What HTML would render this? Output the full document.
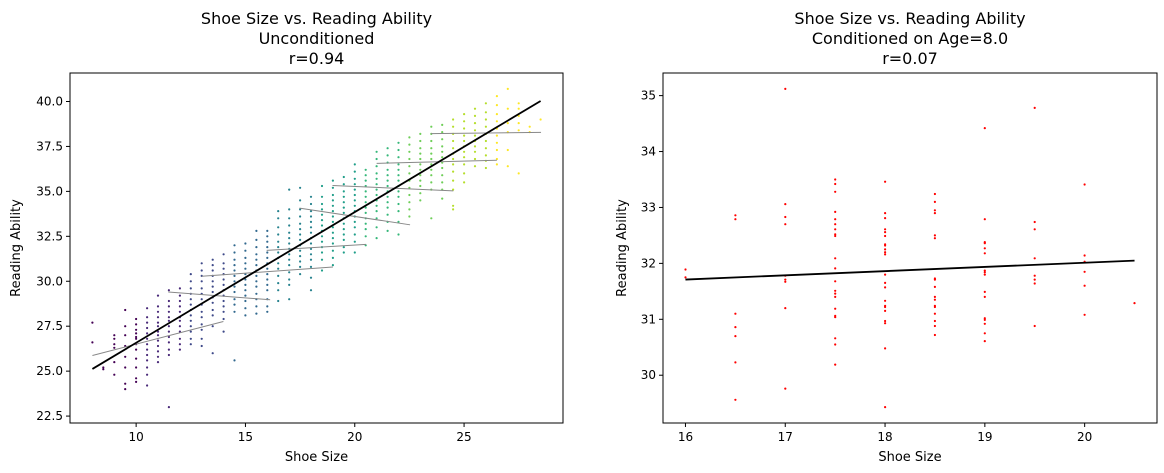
<!DOCTYPE html>
<html><head><meta charset="utf-8">
<style>
html,body{margin:0;padding:0;background:#fff;}
svg{display:block;font-family:"DejaVu Sans","Liberation Sans",sans-serif;}
</style></head>
<body>
<svg id="chart" width="1164" height="473" viewBox="0 0 1164 473"></svg>
<script>
// ---- Left chart data (shoe size columns and reading ability values) ----
const leftSizes = [8,8.5,9,9.5,10,10.5,11,11.5,12,12.5,13,13.5,14,14.5,15,15.5,16,16.5,17,17.5,18,18.5,19,19.5,20,20.5,21,21.5,22,22.5,23,23.5,24,24.5,25,25.5,26,26.5,27,27.5,28,28.5];
const leftReading = [
[27.7,26.6],
[25.1,25.2],
[27.0,26.8,26.5,26.3,25.5,24.8],
[28.4,27.5,27.0,26.4,25.8,25.2,24.3,24.0],
[27.9,27.6,27.3,27.1,26.9,26.8,26.5,26.2,25.7,25.2,24.6,24.4],
[28.5,28.0,27.7,27.4,27.1,26.8,26.5,26.2,25.9,25.6,25.2,24.8,24.2],
[29.2,28.6,28.3,28.0,27.7,27.5,27.2,27.0,26.7,26.4,26.1,25.8,25.5],
[29.5,28.9,28.6,28.3,28.0,27.8,27.5,27.2,26.9,26.6,26.2,25.9,23.0],
[29.6,29.2,28.9,28.6,28.3,28.0,27.8,27.5,27.2,26.8,26.5,26.2],
[30.4,30.0,29.6,29.3,29.0,28.7,28.4,28.1,27.8,27.5,27.2,26.8,26.5],
[31.0,30.6,30.3,30.0,29.6,29.3,29.0,28.7,28.3,28.0,27.6,27.3,26.8,26.4],
[31.2,30.9,30.6,30.3,30.0,29.7,29.4,29.1,28.8,28.4,28.1,27.5,26.0],
[31.5,31.0,30.7,30.4,30.1,29.8,29.5,29.2,28.9,28.6,28.3,27.9,27.2],
[32.0,31.6,31.2,30.9,30.6,30.3,30.0,29.7,29.4,29.0,28.7,28.3,25.6],
[32.1,31.7,31.3,31.0,30.7,30.4,30.1,29.8,29.5,29.2,28.9,28.5,28.1],
[32.8,32.3,31.9,31.5,31.2,30.9,30.6,30.3,30.0,29.7,29.3,29.0,28.6,28.2],
[32.8,32.5,32.2,31.9,31.6,31.3,31.0,30.7,30.4,30.1,29.8,29.5,29.0,28.6,28.3],
[33.9,33.5,33.0,32.6,32.2,31.9,31.6,31.3,31.0,30.7,30.3,29.9,29.5,28.9],
[35.1,34.0,33.5,33.1,32.7,32.4,32.1,31.8,31.5,31.2,30.9,30.5,30.1,29.8,29.0],
[35.2,34.5,34.0,33.6,33.2,32.9,32.6,32.3,32.0,31.7,31.4,31.1,30.8,30.4],
[34.7,34.3,33.9,33.6,33.3,33.0,32.7,32.4,32.1,31.8,31.5,31.2,30.8,30.2,29.5],
[35.3,34.7,34.3,34.0,33.7,33.4,33.1,32.8,32.5,32.2,31.9,31.6,31.2,30.6],
[35.6,35.2,34.8,34.5,34.2,33.9,33.6,33.3,33.0,32.7,32.4,32.1,31.7,31.3,30.9],
[35.8,35.4,35.0,34.7,34.4,34.1,33.8,33.5,33.2,32.9,32.6,32.3,31.9,31.6],
[36.5,36.1,35.7,35.4,35.1,34.8,34.5,34.2,33.9,33.6,33.3,33.0,32.6,32.2,31.6],
[36.2,35.9,35.6,35.3,35.0,34.7,34.4,34.1,33.8,33.5,33.2,32.9,32.5,32.0],
[37.2,36.8,36.4,36.0,35.7,35.4,35.1,34.8,34.5,34.2,33.9,33.5,33.0,32.4],
[37.4,37.0,36.6,36.2,35.9,35.6,35.3,35.0,34.7,34.4,34.1,33.7,33.3,32.8],
[37.7,37.3,36.9,36.5,36.2,35.9,35.6,35.3,35.0,34.7,34.3,33.9,33.3,32.6],
[38.0,37.6,37.2,36.8,36.4,36.0,35.6,35.2,34.8,34.4,34.0,33.6],
[38.2,37.8,37.4,37.1,36.8,36.5,36.2,35.9,35.6,35.3,34.9,34.5],
[38.6,38.2,37.8,37.4,37.1,36.8,36.5,36.2,35.9,35.5,35.1,33.5],
[38.7,38.3,37.9,37.5,37.2,36.9,36.6,36.3,35.9,35.5,35.1,34.6],
[39.0,38.6,38.2,37.8,37.4,37.1,36.8,36.5,36.1,35.6,35.1,34.2,34.0],
[39.3,38.9,38.5,38.1,37.8,37.5,37.2,36.9,36.5,36.0,35.5],
[39.6,39.2,38.8,38.4,38.1,37.8,37.5,37.2,36.8,36.4],
[39.9,39.4,39.0,38.6,38.2,37.8,37.4,37.0,36.7,36.3],
[40.3,39.8,39.3,38.9,38.5,38.1,37.7,37.3,36.8,36.5],
[40.7,39.6,38.8,38.3,37.3,36.4],
[39.9,39.6,39.2,38.8,38.4,36.0],
[38.6,38.3],
[39.0]
];
// per-age-group fit lines (data units)
const groupX0 = [8.0,11.47,13.0,15.97,17.47,18.98,21.0,23.49];
const groupX1 = [13.99,16.13,19.0,20.52,22.53,24.51,26.5,28.52];
const groupY0 = [25.87,29.4,30.28,31.72,34.07,35.33,36.56,38.21];
const groupY1 = [27.76,28.97,30.79,32.05,33.14,35.03,36.73,38.28];
const leftXTicks = [10,15,20,25];
const leftYTicks = [22.5,25.0,27.5,30.0,32.5,35.0,37.5,40.0];

// ---- Right chart data (age = 8) ----
const rightSizes = [16,16.5,17,17.5,18,18.5,19,19.5,20,20.5];
const rightReading = [
[31.89,31.75],
[32.86,32.79,31.10,30.86,30.70,30.23,29.56],
[35.12,33.06,32.83,32.70,31.78,31.71,31.67,31.20,29.76],
[33.50,33.42,33.28,32.92,32.79,32.70,32.61,32.52,32.49,32.09,31.91,31.68,31.51,31.46,31.40,31.19,31.06,31.04,30.66,30.55,30.19],
[33.46,32.90,32.81,32.61,32.56,32.49,32.34,32.32,32.25,32.20,32.16,31.80,31.65,31.57,31.33,31.24,31.22,31.15,30.97,30.93,30.48,29.43],
[33.24,33.10,32.95,32.90,32.50,32.45,31.73,31.71,31.58,31.40,31.35,31.24,31.22,31.10,30.97,30.88,30.72],
[34.42,32.79,32.38,32.36,32.27,32.18,31.87,31.84,31.80,31.49,31.40,31.02,30.99,30.92,30.75,30.61],
[34.78,32.74,32.61,32.09,31.78,31.71,31.64,30.88],
[33.41,32.14,32.03,31.85,31.60,31.08],
[31.29]
];
const rightXTicks = [16,17,18,19,20];
const rightYTicks = [30,31,32,33,34,35];

const NS = "http://www.w3.org/2000/svg";
const svg = document.getElementById('chart');
function mk(tag, attrs, parent){const e=document.createElementNS(NS,tag);for(const k in attrs)e.setAttribute(k,attrs[k]);(parent||svg).appendChild(e);return e;}
const viridis=["#440154","#482878","#3e4989","#31688e","#26828e","#1f9e89","#35b779","#6ece58","#b5de2b","#fde725"];
function vcol(t){t=Math.max(0,Math.min(0.999,t));return viridis[Math.floor(t*viridis.length)];}

function flatten(sizes, vals){const xs=[],ys=[];sizes.forEach((s,i)=>vals[i].forEach(v=>{xs.push(s);ys.push(v);}));return [xs,ys];}
function fit(xs,ys){const n=xs.length;let mx=0,my=0;for(let i=0;i<n;i++){mx+=xs[i];my+=ys[i];}mx/=n;my/=n;let sxy=0,sxx=0;for(let i=0;i<n;i++){sxy+=(xs[i]-mx)*(ys[i]-my);sxx+=(xs[i]-mx)**2;}const b=sxy/sxx;return [my-b*mx,b];}

function panel(o){
  const g=mk('g',{});
  
  
  const [xs,ys]=flatten(o.sizes,o.vals);
  const xmin=Math.min(...xs),xmax=Math.max(...xs),ymin=Math.min(...ys),ymax=Math.max(...ys);
  const xm=(xmax-xmin)*0.05, ym=(ymax-ymin)*0.05;
  const X=v=>o.L+(v-(xmin-xm))/((xmax+xm)-(xmin-xm))*(o.R-o.L);
  const Y=v=>o.B-(v-(ymin-ym))/((ymax+ym)-(ymin-ym))*(o.B-o.T);
  // points
  const pg=mk('g',{},g);
  
  
  for(let i=0;i<xs.length;i++){
    const c=mk('circle',{cx:X(xs[i]).toFixed(1),cy:Y(ys[i]).toFixed(1),r:1.1,fill:o.color?o.color:vcol((xs[i]-xmin)/(xmax-xmin))},pg);
    
    
  }
  // group lines
  if(o.groups){
    for(let i=0;i<groupX0.length;i++){
      const l=mk('line',{x1:X(groupX0[i]),y1:Y(groupY0[i]),x2:X(groupX1[i]),y2:Y(groupY1[i]),stroke:'#888',"stroke-width":1},g);
      
      
    }
  }
  // regression line
  const [a,b]=fit(xs,ys);
  const rl=mk('line',{x1:X(xmin),y1:Y(a+b*xmin),x2:X(xmax),y2:Y(a+b*xmax),stroke:'#000',"stroke-width":1.8},g);
  
  
  // frame
  const fr=mk('rect',{x:o.L,y:o.T,width:o.R-o.L,height:o.B-o.T,fill:'none',stroke:'#000',"stroke-width":1},g);
  
  
  o.xticks.forEach(t=>{
    const x=X(t);
    mk('line',{x1:x,y1:o.B,x2:x,y2:o.B+4,stroke:'#000'},g);
    const tx=mk('text',{x:x,y:o.B+18,"text-anchor":"middle","font-size":12},g);
    tx.textContent=String(t);
    
    
  });
  o.yticks.forEach(t=>{
    const y=Y(t);
    mk('line',{x1:o.L-4,y1:y,x2:o.L,y2:y,stroke:'#000'},g);
    const tx=mk('text',{x:o.L-7,y:y+4,"text-anchor":"end","font-size":12},g);
    tx.textContent=o.yfmt(t);
    
    
  });
  const cx=(o.L+o.R)/2;
  const xl=mk('text',{x:cx,y:461,"text-anchor":"middle","font-size":13},g);
  xl.textContent='Shoe Size';
  
  
  const yx=o.ylx, yy=(o.T+o.B)/2;
  const yl=mk('text',{x:yx,y:yy,"text-anchor":"middle","font-size":13,transform:`rotate(-90 ${yx} ${yy})`},g);
  yl.textContent='Reading Ability';
  
  
  o.title.forEach((s,i)=>{
    const t=mk('text',{x:cx,y:24+i*20,"text-anchor":"middle","font-size":16},g);
    t.textContent=s;
    
    
  });
}
panel({name:'unconditioned-panel',sizes:leftSizes,vals:leftReading,L:70,R:563,T:73,B:423,groups:true,
  xticks:leftXTicks,yticks:leftYTicks,yfmt:t=>t.toFixed(1),ylx:20,
  title:['Shoe Size vs. Reading Ability','Unconditioned','r=0.94']});
panel({name:'conditioned-panel',sizes:rightSizes,vals:rightReading,L:663,R:1157,T:73,B:423,color:'#ff0000',
  xticks:rightXTicks,yticks:rightYTicks,yfmt:t=>String(t),ylx:626,
  title:['Shoe Size vs. Reading Ability','Conditioned on Age=8.0','r=0.07']});
</script>
</body></html>
